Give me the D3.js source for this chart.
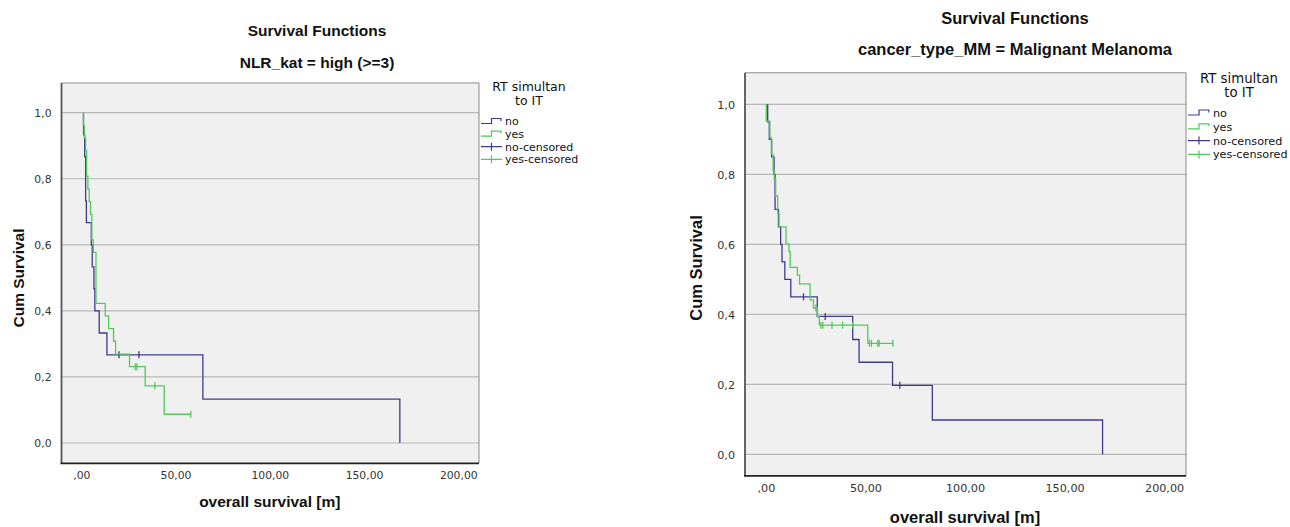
<!DOCTYPE html>
<html>
<head>
<meta charset="utf-8">
<script src="https://cdn.jsdelivr.net/npm/d3@7"></script>
<style>
  body { margin: 0; background: #fff; }
  text { font-family: "DejaVu Sans", sans-serif; }
  .ttl { font-family: "Liberation Sans", Arial, sans-serif; font-weight: bold; fill: #111; }
</style>
</head>
<body>
<script>
// tick labels
const yTicks = [0, 0.2, 0.4, 0.6, 0.8, 1.0];
const xTicks = [0, 50, 100, 150, 200];
const groups = ["no", "yes"];

// left chart: NLR_kat = high (>=3)
const leftNoTimes = [1.2, 1.8, 2.3, 2.7, 5.3, 5.8, 6.7, 7.2, 9.5, 13.6, 64.5, 169];
const leftNoSurv  = [0.933, 0.867, 0.733, 0.667, 0.6, 0.533, 0.467, 0.4, 0.333, 0.267, 0.133, 0];
const leftNoCens  = [20.0, 30.6];
const leftYesTimes = [1.06, 1.6, 2.3, 2.8, 3.5, 4.2, 4.9, 5.6, 6.4, 7.8, 12.7, 14.5, 17.1, 18.2, 25.6, 33.9, 44.0];
const leftYesSurv  = [0.962, 0.923, 0.885, 0.808, 0.769, 0.731, 0.692, 0.615, 0.577, 0.423, 0.385, 0.346, 0.308, 0.269, 0.231, 0.173, 0.087];
const leftYesCens  = [28.6, 29.5, 39.0, 58.1];

// right chart: cancer_type_MM = Malignant Melanoma
const rightNoTimes = [0.9, 1.7, 2.9, 4.1, 4.6, 6.3, 7.4, 8.1, 9.5, 12.5, 25.8, 43.6, 46.8, 63.6, 83.6, 169.1];
const rightNoSurv  = [0.95, 0.9, 0.85, 0.8, 0.7, 0.65, 0.6, 0.55, 0.5, 0.45, 0.394, 0.328, 0.263, 0.197, 0.098, 0];
const rightNoCens  = [18.9, 29.8, 67.3];
const rightYesTimes = [0.2, 2.0, 2.7, 3.6, 4.2, 4.9, 5.9, 6.6, 10.1, 11.6, 12.2, 15.8, 16.9, 22.2, 23.9, 25.9, 26.8, 51.2];
const rightYesSurv  = [0.952, 0.905, 0.857, 0.81, 0.786, 0.738, 0.69, 0.65, 0.601, 0.579, 0.534, 0.512, 0.487, 0.441, 0.418, 0.393, 0.369, 0.317];
const rightYesCens  = [25.1, 27.6, 28.6, 33.2, 38.5, 43.6, 52.0, 53.0, 56.1, 56.9, 63.8];

const colors = { no: "#3c3c8e", yes: "#55c85a" };

const svg = d3.select("body").append("svg")
  .attr("width", 1290).attr("height", 527);

function survAt(times, surv, t) {
  let s = 1;
  for (let i = 0; i < times.length; i++) if (times[i] <= t) s = surv[i];
  return s;
}

function drawChart(c) {
  const g = svg.append("g");
  const x = d3.scaleLinear().domain([-10.5, 211]).range(c.xr);
  const y = d3.scaleLinear().domain([0, 1]).range(c.yr);
  const top = y(1.09), bot = y(-0.0615);
  const left = c.xr[0], right = c.xr[1];

  g.append("rect").attr("x", left).attr("y", top)
    .attr("width", right - left).attr("height", bot - top).attr("fill", "#f0f0f0");

  g.selectAll(".grid").data(yTicks).join("line")
    .attr("x1", left).attr("x2", right)
    .attr("y1", d => y(d)).attr("y2", d => y(d))
    .attr("stroke", "#b9b9b9").attr("stroke-width", 1.2);

  // frame
  g.append("line").attr("x1", left).attr("x2", right).attr("y1", top).attr("y2", top).attr("stroke", "#8a8a8a");
  g.append("line").attr("x1", right).attr("x2", right).attr("y1", top).attr("y2", bot).attr("stroke", "#8a8a8a");
  g.append("line").attr("x1", left).attr("x2", left).attr("y1", top).attr("y2", bot).attr("stroke", "#555").attr("stroke-width", 1.8);
  g.append("line").attr("x1", left - 1).attr("x2", right).attr("y1", bot).attr("y2", bot).attr("stroke", "#222").attr("stroke-width", 1.8);

  // axes
  const yAx = g.append("g").attr("transform", `translate(${left - 10},0)`)
    .call(d3.axisLeft(y).tickValues(yTicks).tickSize(0)
      .tickFormat(d => d3.format(".1f")(d).replace(".", ",")));
  yAx.select(".domain").remove();
  yAx.selectAll("text").attr("font-family", "DejaVu Sans").attr("font-size", c.tick).attr("fill", "#333").attr("x", 0).attr("dy", "0.35em");

  const xAx = g.append("g").attr("transform", `translate(0,${c.xLabY})`)
    .call(d3.axisBottom(x).tickValues(xTicks).tickSize(0)
      .tickFormat(d => { let s = d3.format(".2f")(d).replace(".", ","); return s.startsWith("0,") ? s.slice(1) : s; }));
  xAx.select(".domain").remove();
  xAx.selectAll("text").attr("font-family", "DejaVu Sans").attr("font-size", c.tick).attr("fill", "#333").attr("y", 0).attr("dy", "0.35em");

  // titles
  g.append("text").attr("class", "ttl").attr("x", c.tx).attr("y", c.t1y).attr("text-anchor", "middle")
    .attr("font-size", c.tfs).text("Survival Functions");
  g.append("text").attr("class", "ttl").attr("x", c.tx).attr("y", c.t2y).attr("text-anchor", "middle")
    .attr("font-size", c.tfs).text(c.sub);
  g.append("text").attr("class", "ttl").attr("x", x(100)).attr("y", c.axY).attr("text-anchor", "middle")
    .attr("font-size", c.tfs).text("overall survival [m]");
  g.append("text").attr("class", "ttl").attr("transform", `translate(${c.ylx},${c.yly}) rotate(-90)`)
    .attr("text-anchor", "middle").attr("font-size", c.tfs).text("Cum Survival");

  // curves
  const line = d3.line().x(d => x(d[0])).y(d => y(d[1])).curve(d3.curveStepAfter);
  c.series.forEach(s => {
    const pts = [[s.times[0], 1]];
    s.times.forEach((t, i) => pts.push([t, s.surv[i]]));
    const lastC = d3.max(s.cens) || 0;
    const lastT = s.times[s.times.length - 1];
    if (lastC > lastT) pts.push([lastC, s.surv[s.surv.length - 1]]);
    g.append("path").attr("d", line(pts)).attr("fill", "none")
      .attr("stroke", colors[s.key]).attr("stroke-width", 1.3);
    g.selectAll(null).data(s.cens).join("line")
      .attr("x1", d => x(d)).attr("x2", d => x(d))
      .attr("y1", d => y(survAt(s.times, s.surv, d)) - 3.5)
      .attr("y2", d => y(survAt(s.times, s.surv, d)) + 3.5)
      .attr("stroke", colors[s.key]).attr("stroke-width", 1.3);
  });

  // legend
  const L = g.append("g");
  const lx = right + 2;
  L.append("text").attr("x", c.lhx).attr("y", c.lh1).attr("text-anchor", "middle").attr("dy", "0.35em")
    .attr("font-size", c.lhfs).attr("fill", "#111").text("RT simultan");
  L.append("text").attr("x", c.lhx).attr("y", c.lh1 + c.lhgap).attr("text-anchor", "middle").attr("dy", "0.35em")
    .attr("font-size", c.lhfs).attr("fill", "#111").text("to IT");
  const items = [
    { label: "no", key: "no", type: "step" },
    { label: "yes", key: "yes", type: "step" },
    { label: "no-censored", key: "no", type: "cens" },
    { label: "yes-censored", key: "yes", type: "cens" }
  ];
  items.forEach((it, i) => {
    const yc = c.li0 + i * c.lstep;
    const w = c.lw;
    if (it.type === "step") {
      L.append("path").attr("d", `M${lx},${yc + 2}H${lx + w * 0.5}V${yc - 3}H${lx + w * 0.95}V${yc - 0.5}`)
        .attr("fill", "none").attr("stroke", colors[it.key]).attr("stroke-width", 1.2);
    } else {
      L.append("path").attr("d", `M${lx},${yc}H${lx + w}M${lx + w * 0.5},${yc - 4}V${yc + 4}`)
        .attr("fill", "none").attr("stroke", colors[it.key]).attr("stroke-width", 1.2);
    }
    L.append("text").attr("x", lx + w + 3).attr("y", yc).attr("dy", "0.35em")
      .attr("font-size", c.lfs).attr("fill", "#111").text(it.label);
  });
}

drawChart({
  xr: [61.5, 479], yr: [443, 112.7], xLabY: 475, axY: 507,
  tick: 10.8, tfs: 15.5, tx: 317, t1y: 36, t2y: 68,
  sub: "NLR_kat = high (>=3)", ylx: 24, yly: 278,
  lhx: 529, lh1: 87, lhgap: 14, lhfs: 12.5, li0: 121.5, lstep: 12.6, lw: 21, lfs: 11,
  series: [
    { key: "no", times: leftNoTimes, surv: leftNoSurv, cens: leftNoCens },
    { key: "yes", times: leftYesTimes, surv: leftYesSurv, cens: leftYesCens }
  ]
});

drawChart({
  xr: [745, 1186], yr: [454.3, 104.3], xLabY: 488, axY: 523,
  tick: 11.2, tfs: 16.5, tx: 1015, t1y: 24, t2y: 55,
  sub: "cancer_type_MM = Malignant Melanoma", ylx: 702, yly: 268,
  lhx: 1239, lh1: 78, lhgap: 14, lhfs: 13.3, li0: 113, lstep: 13.8, lw: 22, lfs: 11.2,
  series: [
    { key: "no", times: rightNoTimes, surv: rightNoSurv, cens: rightNoCens },
    { key: "yes", times: rightYesTimes, surv: rightYesSurv, cens: rightYesCens }
  ]
});
</script>
</body>
</html>
